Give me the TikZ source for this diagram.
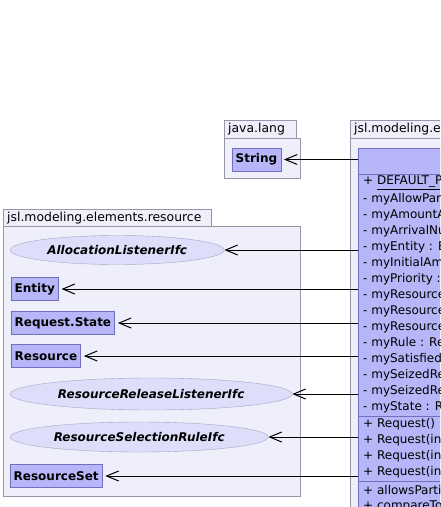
\documentclass[tikz,border=0pt]{standalone}
\usepackage{fontspec}
\setmainfont{DejaVu Sans}
\usetikzlibrary{arrows.meta,shapes.geometric}

\definecolor{pkgfill}{RGB}{239,239,252}
\definecolor{pkgline}{RGB}{150,150,168}
\definecolor{clsfill}{RGB}{182,182,248}
\definecolor{clsline}{RGB}{112,112,190}
\definecolor{ifcfill}{RGB}{222,222,250}
\definecolor{ifcline}{RGB}{165,165,195}

\tikzset{
  pkgtab/.style={draw=pkgline,fill=pkgfill,anchor=north west,inner xsep=4pt,inner ysep=0pt,
    minimum height=18pt,align=left,font=\fontsize{12.4}{14}\selectfont},
  pkgbody/.style={draw=pkgline,fill=pkgfill,anchor=north west,inner sep=0pt},
  cls/.style={draw=clsline,fill=clsfill,anchor=west,inner xsep=3.5pt,inner ysep=0pt,
    minimum height=23pt,font=\fontsize{12}{14}\selectfont\bfseries},
  ifc/.style={ellipse,draw=ifcline,fill=ifcfill,anchor=west,inner sep=0pt,
    font=\fontsize{12}{14}\selectfont\bfseries\itshape},
  member/.style={anchor=west,inner sep=0pt,font=\fontsize{12}{14}\selectfont},
  assoc/.style={-{Straight Barb[length=12pt,width=10pt]},line width=1pt}
}

\begin{document}
\begin{tikzpicture}[x=1pt,y=-1pt]
\useasboundingbox (0,0) rectangle (440,507);
\clip (0,0) rectangle (440,507);
% ---- java.lang
\node[pkgtab,text width=64pt] (langtab) at (224,120) {java.lang};
\node[pkgbody,minimum width=76pt,minimum height=40pt] (langbody) at (224,138) {};
\node[cls] (string) at (232,159.5) {String};
% ---- jsl.modeling.elements.resource
\node[pkgtab,text width=200pt] (restab) at (3,209) {jsl.modeling.elements.resource};
\node[pkgbody,minimum width=297pt,minimum height=270pt] (resbody) at (3,226) {};
\node[ifc,minimum width=214pt,minimum height=29pt] (alloc) at (10,250) {AllocationListenerIfc};
\node[cls] (entity) at (11,289) {Entity};
\node[cls] (reqstate) at (11,323) {Request.State};
\node[cls] (resource) at (11,356) {Resource};
\node[ifc,minimum width=282pt,minimum height=32pt] (release) at (10,394) {ResourceReleaseListenerIfc};
\node[ifc,minimum width=258pt,minimum height=30pt] (selrule) at (10,437) {ResourceSelectionRuleIfc};
\node[cls] (resset) at (10,476) {ResourceSet};
% ---- jsl.modeling.elements (Request)
\node[pkgtab,text width=200pt] (elemtab) at (350,120) {jsl.modeling.el};
\node[pkgbody,minimum width=200pt,minimum height=420pt] (elembody) at (350,138) {};
\node[draw=clsline,fill=clsfill,anchor=north west,inner sep=0pt,minimum width=200pt,
  minimum height=400pt] (request) at (358,148) {};
\draw[clsline] (358,174) -- (560,174);
\draw[clsline] (358,416) -- (560,416);
\draw[clsline] (358,481) -- (560,481);
\foreach \txt [count=\i] in {{+ \underline{DEFAULT\_P}},{- myAllowPar},{- myAmountA},
  {- myArrivalNu},{- myEntity : E},{- myInitialAm},{- myPriority :},{- myResource},
  {- myResource},{- myResource},{- myRule : Re},{- mySatisfied},{- mySeizedRe},
  {- mySeizedRe},{- myState : R}}
  \node[member] (attr\i) at (363,{167+16*\i}) {\txt};
\foreach \txt [count=\i] in {{+ Request()},{+ Request(int},{+ Request(int},{+ Request(int}}
  \node[member] (ctor\i) at (363,{408+16*\i}) {\txt};
\foreach \txt [count=\i] in {{+ allowsPartia},{+ compareTo}}
  \node[member] (meth\i) at (363,{474+16*\i}) {\txt};
% ---- associations
\draw[assoc,shorten >=3pt] (request.west |- string.east) -- (string.east);
\draw[assoc] (request.west |- alloc.east) -- (alloc.east);
\draw[assoc,shorten >=3pt] (request.west |- entity.east) -- (entity.east);
\draw[assoc,shorten >=3pt] (request.west |- reqstate.east) -- (reqstate.east);
\draw[assoc,shorten >=3pt] (request.west |- resource.east) -- (resource.east);
\draw[assoc] (request.west |- release.east) -- (release.east);
\draw[assoc] (request.west |- selrule.east) -- (selrule.east);
\draw[assoc,shorten >=3pt] (request.west |- resset.east) -- (resset.east);
\end{tikzpicture}
\end{document}
